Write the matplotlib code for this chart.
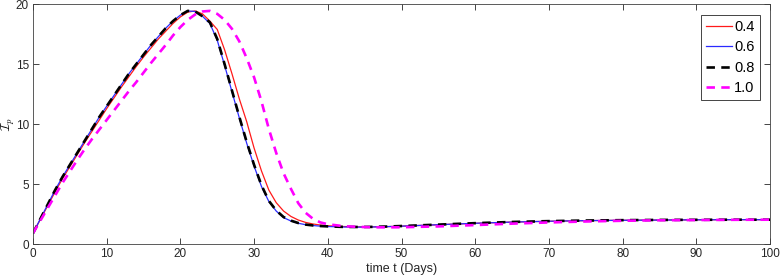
import numpy as np
import matplotlib
matplotlib.use('Agg')
import matplotlib.pyplot as plt

plt.rcParams['font.family'] = ['Liberation Sans', 'DejaVu Sans']
plt.rcParams['mathtext.fontset'] = 'cm'

# time points (days)
t = [0, 1, 2, 3, 4, 5, 6, 7, 8, 9, 10, 11, 12, 13, 14, 15, 16, 17, 18, 19, 20,
     21, 22, 23, 24, 25, 26, 27, 28, 29, 30, 31, 32, 33, 34, 35, 36, 37, 38, 39,
     40, 42, 44, 46, 48, 50, 55, 60, 65, 70, 75, 80, 85, 90, 95, 100]

# I_p for the four parameter values
ip_04 = [0.9, 2.05, 3.2, 4.35, 5.45, 6.45, 7.45, 8.45, 9.4, 10.35, 11.3, 12.2, 13.1,
         13.95, 14.8, 15.6, 16.35, 17.1, 17.75, 18.4, 18.95, 19.35, 19.45, 19.2, 18.6,
         17.9, 16.2, 14.2, 12.1, 10.2, 8.0, 6.1, 4.5, 3.45, 2.75, 2.3, 2.0, 1.8, 1.67,
         1.58, 1.52, 1.46, 1.43, 1.43, 1.45, 1.49, 1.61, 1.73, 1.83, 1.9, 1.95, 1.98,
         2.0, 2.02, 2.03, 2.03]
ip_06 = [0.9, 2.1, 3.3, 4.5, 5.6, 6.6, 7.6, 8.6, 9.6, 10.6, 11.5, 12.4, 13.3, 14.2,
         15.0, 15.8, 16.6, 17.3, 18.0, 18.6, 19.1, 19.45, 19.4, 19.0, 18.4, 17.0,
         14.9, 12.7, 10.5, 8.4, 6.5, 4.8, 3.55, 2.75, 2.2, 1.92, 1.73, 1.61, 1.54,
         1.49, 1.46, 1.42, 1.41, 1.42, 1.45, 1.49, 1.61, 1.73, 1.83, 1.9, 1.95, 1.98,
         2.0, 2.02, 2.03, 2.03]
ip_08 = [0.9, 2.1, 3.3, 4.5, 5.6, 6.6, 7.6, 8.6, 9.6, 10.6, 11.5, 12.4, 13.3, 14.2,
         15.0, 15.8, 16.6, 17.3, 18.0, 18.6, 19.1, 19.45, 19.4, 19.0, 18.5, 17.1,
         15.0, 12.8, 10.6, 8.5, 6.6, 4.9, 3.6, 2.8, 2.25, 1.95, 1.75, 1.62, 1.55,
         1.5, 1.47, 1.43, 1.42, 1.43, 1.46, 1.5, 1.62, 1.74, 1.84, 1.91, 1.96, 1.99,
         2.01, 2.02, 2.03, 2.03]
ip_10 = [0.9, 1.95, 3.0, 4.05, 5.1, 6.05, 7.0, 7.9, 8.75, 9.55, 10.35, 11.15, 11.95,
         12.75, 13.5, 14.3, 15.1, 15.85, 16.6, 17.4, 18.1, 18.7, 19.15, 19.4, 19.45,
         19.2, 18.7, 17.95, 16.9, 15.5, 13.9, 11.9, 9.6, 7.6, 5.9, 4.6, 3.4, 2.6, 2.1,
         1.8, 1.65, 1.5, 1.43, 1.4, 1.39, 1.4, 1.47, 1.58, 1.7, 1.8, 1.88, 1.94, 1.98,
         2.0, 2.02, 2.03]

labels = ['0.4', '0.6', '0.8', '1.0']

fig = plt.figure(figsize=(7.8, 2.79), dpi=100)
ax = fig.add_axes([0.0423, 0.1254, 0.9449, 0.8592])

ax.plot(t, ip_04, color='#ff1a1a', lw=0.9, label=labels[0])
ax.plot(t, ip_06, color='#2a2aff', lw=0.9, label=labels[1])
ax.plot(t, ip_08, color='black', lw=1.9, ls=(0, (3.2, 2.4)), label=labels[2])
ax.plot(t, ip_10, color='magenta', lw=1.9, ls=(0, (3.2, 2.4)), label=labels[3])

ax.set_xlim(0, 100)
ax.set_ylim(0, 20)
ax.set_xticks(np.arange(0, 101, 10))
ax.set_yticks([0, 5, 10, 15, 20])
ax.tick_params(direction='in', top=True, right=True, length=4, width=0.6,
               colors='#262626', labelsize=8.5, pad=3)
for s in ax.spines.values():
    s.set_color('#404040')
    s.set_linewidth(0.6)

ax.set_xlabel('time t (Days)', fontsize=9, color='#262626', labelpad=2)
ax.set_ylabel(r'$\mathcal{I}_p$', fontsize=9)
ax.yaxis.set_label_coords(-0.022, 0.5)

leg = ax.legend(loc='upper right', fontsize=10.5, fancybox=False, framealpha=1,
                edgecolor='#262626', handlelength=1.8, handletextpad=0.15,
                borderaxespad=0.7, labelspacing=0.45, borderpad=0.35)
leg.get_frame().set_linewidth(0.6)

fig.savefig('out.png', dpi=100)
